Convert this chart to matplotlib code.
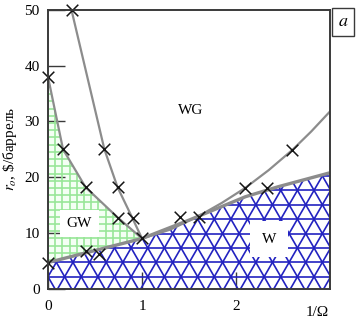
import numpy as np
import matplotlib
matplotlib.use("Agg")
import matplotlib.pyplot as plt
from matplotlib.patches import Polygon
from matplotlib.collections import LineCollection

plt.rcParams['font.family'] = ['Liberation Serif', 'DejaVu Serif']
plt.rcParams['mathtext.fontset'] = 'stix'

# ---- data ----
# GW / WG boundary (left curve)
b1_x = [0.0, 0.16, 0.40, 0.74, 1.0]
b1_y = [38.0, 25.0, 18.2, 12.8, 9.0]
# steep curve from top
b2_x = [0.25, 0.60, 0.74, 0.90, 1.0]
b2_y = [50.0, 25.0, 18.2, 12.6, 9.0]
# lower boundary (top of W region)
low_x = [0.0, 1.0, 1.5, 2.1, 2.45, 3.0]
low_y = [4.7, 9.0, 12.3, 16.5, 18.3, 20.8]
# upper-right curve (W / WG)
up_x = [1.0, 1.3, 1.6, 1.85, 2.1, 2.35, 2.6, 2.8, 3.0]
up_y = [9.0, 10.6, 13.0, 15.4, 18.1, 21.3, 24.9, 28.2, 31.8]
# measured points (crosses)
pts_x = [0.0, 0.25, 0.16, 0.60, 0.40, 0.74, 0.74, 0.90, 1.0, 0.40, 0.54, 0.0, 1.40, 1.61, 2.10, 2.33, 2.60]
pts_y = [38.0, 50.0, 25.0, 25.0, 18.2, 18.2, 12.6, 12.6, 9.1, 6.7, 6.3, 4.7, 12.9, 12.9, 18.1, 18.1, 24.9]

xticks = [0, 1, 2]
xticklabels = ['0', '1', '2']
yticks = [0, 10, 20, 30, 40, 50]

W, H = 356, 333
fig = plt.figure(figsize=(W / 100, H / 100), dpi=100)
ax = fig.add_axes([48 / W, 1 - 288.7 / H, (330 - 48) / W, (288.7 - 10) / H])
ax.set_xlim(0, 3)
ax.set_ylim(0, 50)

# px -> data scale
sx = (330 - 48) / 3.0      # px per x unit
sy = (288.7 - 10) / 50.0   # px per y unit

# ---- W region (blue triangular lattice) ----
wpoly = [(x, y) for x, y in zip(low_x, low_y)] + [(3.0, 0.0), (0.0, 0.0)]
wpatch = Polygon(wpoly, closed=True, facecolor='white', edgecolor='none', zorder=1)
ax.add_patch(wpatch)
h_px = 14.4
s_px = h_px / (np.sqrt(3) / 2)
hy = h_px / sy
y0 = 2.15
segs = []
for k in range(-5, 20):
    yy = y0 + k * hy
    segs.append([(-1, yy), (4, yy)])
m = np.sqrt(3) * sx / sy
s = s_px / sx
for k in range(-40, 60):
    xc = k * s
    segs.append([(xc - 60 / m, y0 - 60), (xc + 60 / m, y0 + 60)])
    segs.append([(xc - 60 / m, y0 + 60), (xc + 60 / m, y0 - 60)])
lc = LineCollection(segs, colors='#2222c0', linewidths=1.2, zorder=2)
ax.add_collection(lc)
lc.set_clip_path(wpatch)

# ---- GW region (green grid) ----
gpoly = [(x, y) for x, y in zip(b1_x, b1_y)] + [(low_x[1], low_y[1]), (low_x[0], low_y[0])]
gpatch = Polygon(gpoly, closed=True, facecolor='#f4fff4', edgecolor='none', zorder=1)
ax.add_patch(gpatch)
gsegs = []
gx = 7.2 / sx
gy = 7.2 / sy
for k in range(0, 20):
    gsegs.append([(k * gx, 0), (k * gx, 50)])
for k in range(0, 40):
    gsegs.append([(0, k * gy), (3, k * gy)])
glc = LineCollection(gsegs, colors='#98e698', linewidths=1.2, zorder=2)
ax.add_collection(glc)
glc.set_clip_path(gpatch)

# ---- boundary curves ----
gray = '#8c8c8c'
ax.plot(b1_x, b1_y, color=gray, lw=1.6, zorder=3)
ax.plot(b2_x, b2_y, color=gray, lw=1.6, zorder=3)
ax.plot(up_x, up_y, color=gray, lw=1.6, zorder=3)
ax.plot(low_x, low_y, color=gray, lw=2.4, zorder=3, solid_capstyle='butt')

ax.scatter(pts_x, pts_y, marker='x', s=70, color='#151515', linewidths=1.1, zorder=5, clip_on=False)

# ---- region labels ----
ax.text(1.52, 31.9, 'WG', fontsize=11, ha='center', va='center', zorder=6)
ax.text(0.335, 11.7, 'GW', fontsize=11, ha='center', va='center', zorder=6,
        bbox=dict(boxstyle='square,pad=0.45', fc='white', ec='none'))
ax.text(2.35, 8.9, 'W', fontsize=11, ha='center', va='center', zorder=6,
        bbox=dict(boxstyle='square,pad=0.75', fc='white', ec='none'))

# ---- axes styling ----
for sp in ax.spines.values():
    sp.set_color('#3a3a3a')
    sp.set_linewidth(1.4)
    sp.set_zorder(7)
ax.set_xticks(xticks)
ax.set_xticklabels(xticklabels)
ax.set_yticks(yticks)
ax.tick_params(axis='both', direction='in', length=12, width=1.0, color='#3a3a3a',
               labelsize=11, pad=6)
ax.tick_params(axis='x', pad=8)
ax.text(2.86, -4.3, '1/Ω', fontsize=11, ha='center', va='center', clip_on=False)
ax.set_ylabel(r'$r_o$, \$/баррель', fontsize=11, labelpad=4)

fig.text(343 / W, 1 - 22 / H, '$a$', fontsize=13, ha='center', va='center',
         bbox=dict(boxstyle='square,pad=0.3', fc='white', ec='#3a3a3a', lw=1.0))

fig.savefig('out.png', dpi=100)
